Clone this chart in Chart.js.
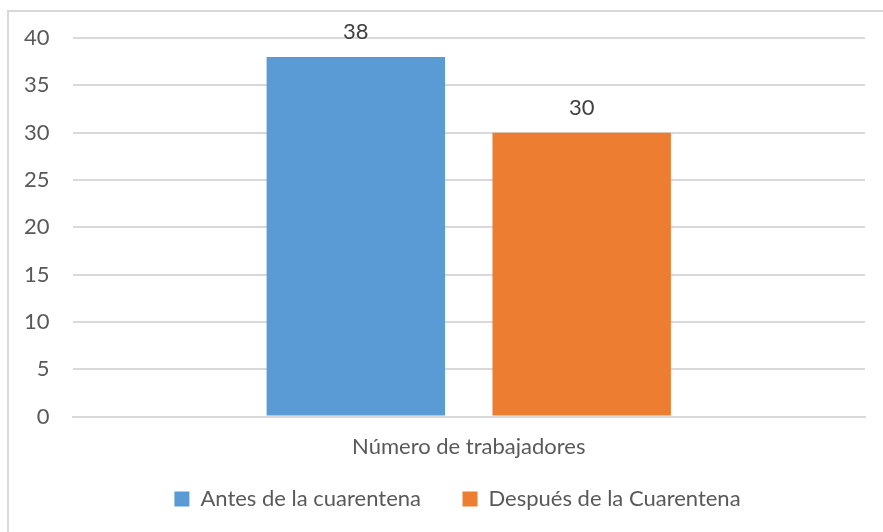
<!DOCTYPE html>
<html>
<head>
<meta charset="utf-8">
<script src="https://cdn.jsdelivr.net/npm/chart.js@4"></script>
<style>
  html, body { margin: 0; padding: 0; background: #fff; overflow: hidden; }
  #frame {
    position: absolute; left: 7px; top: 10px; width: 900px; height: 560px;
    border: 2px solid #d9d9d9; box-sizing: border-box;
  }
  #wrap { position: absolute; left: 0; top: 0; width: 883px; height: 532px; }
</style>
</head>
<body>
<div id="frame"></div>
<div id="wrap"><canvas id="myChart"></canvas></div>
<script>
// categories and series
const categories = ['Número de trabajadores'];
const antes = [38];
const despues = [30];
const seriesNames = ['Antes de la cuarentena', 'Después de la Cuarentena'];

document.addEventListener('DOMContentLoaded', () => {
    const ctx = document.getElementById('myChart').getContext('2d');
    const font = 'Lato, "Noto Sans", sans-serif';

    // draws the value above each bar
    const valueLabels = {
        id: 'valueLabels',
        afterDatasetsDraw(chart) {
            const c = chart.ctx;
            c.save();
            c.font = '22px ' + font;
            c.fillStyle = '#404040';
            c.textAlign = 'center';
            c.textBaseline = 'middle';
            chart.data.datasets.forEach((ds, i) => {
                chart.getDatasetMeta(i).data.forEach((bar, j) => {
                    c.fillText(ds.data[j], bar.x, bar.y - 25);
                });
            });
            c.restore();
        }
    };

    new Chart(ctx, {
        type: 'bar',
        data: {
            labels: categories,
            datasets: [
                { label: seriesNames[0], data: antes, backgroundColor: '#5b9bd5' },
                { label: seriesNames[1], data: despues, backgroundColor: '#ed7d31' }
            ]
        },
        options: {
            responsive: true,
            maintainAspectRatio: false,
            animation: false,
            categoryPercentage: 0.57,
            barPercentage: 0.79,
            layout: { padding: { left: 1, right: 18, top: 38, bottom: 12 } },
            plugins: {
                tooltip: { enabled: false },
                legend: {
                    position: 'bottom',
                    fullSize: false,
                    labels: {
                        font: { family: font, size: 22 },
                        color: '#595959',
                        boxWidth: 15, boxHeight: 15,
                        padding: 19,
                        // a little extra room between the entries
                        generateLabels(chart) {
                            const items = Chart.defaults.plugins.legend.labels.generateLabels(chart);
                            if (items.length > 1) {
                                items[0].text += '    ';
                                items[1].text += '    ';
                            }
                            return items;
                        }
                    }
                }
            },
            scales: {
                y: {
                    min: 0, max: 40,
                    ticks: { stepSize: 5, color: '#595959', font: { family: font, size: 22 }, padding: 23 },
                    grid: { color: '#d9d9d9', lineWidth: 2, drawTicks: false },
                    border: { display: false }
                },
                x: {
                    ticks: { color: '#595959', font: { family: font, size: 22 }, padding: 9 },
                    grid: { display: false },
                    border: { color: '#d9d9d9', width: 2 }
                }
            }
        },
        plugins: [valueLabels]
    });
});
</script>
</body>
</html>
